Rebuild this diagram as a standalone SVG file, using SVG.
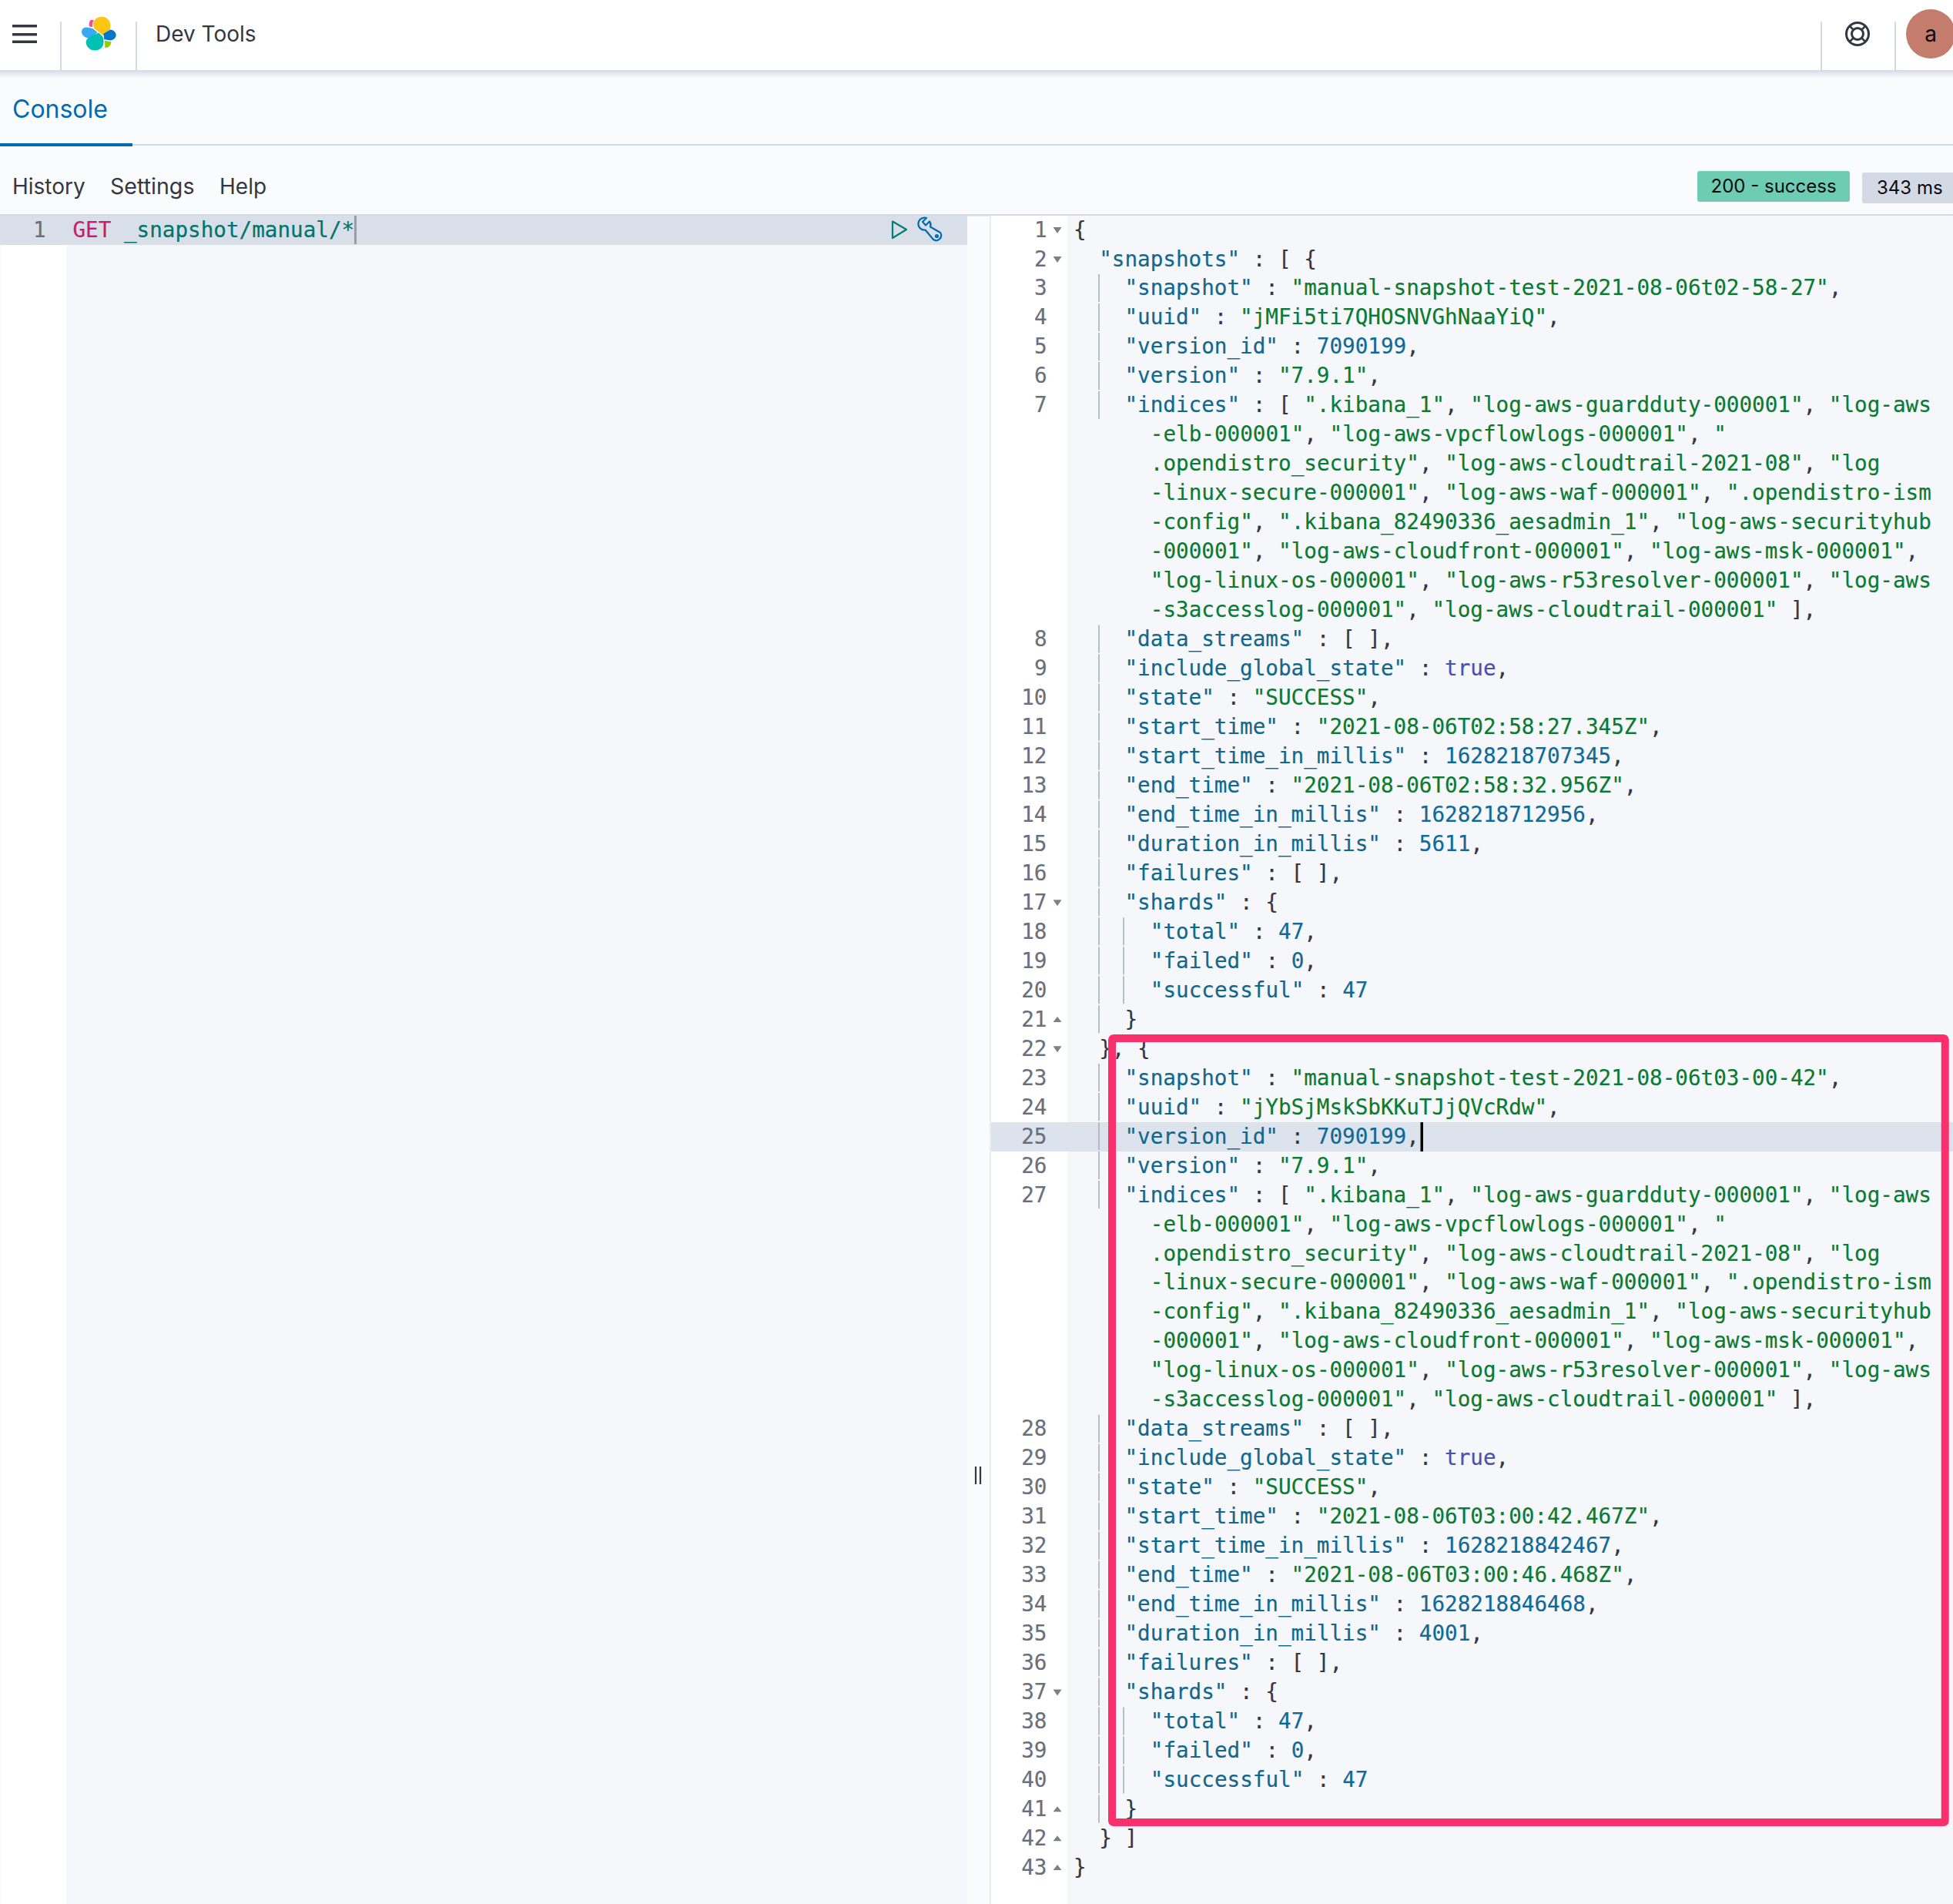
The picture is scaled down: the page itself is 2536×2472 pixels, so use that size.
<svg xmlns="http://www.w3.org/2000/svg" width="2536" height="2472" viewBox="0 0 2536 2472">
<style>
.ui{font-family:"Inter","Liberation Sans",sans-serif;fill:#343741}
.ub{font-family:"Inter","Liberation Sans",sans-serif;fill:#0b0b0f}
.m{font-family:"DejaVu Sans Mono","Liberation Mono",monospace;font-size:27.62px;fill:#343741;stroke:#343741;stroke-width:.2;white-space:pre}
.ln{fill:#69707d;stroke:#69707d;text-anchor:end}
.k{fill:#12688c;stroke:#12688c}.s{fill:#0b7a32;stroke:#0b7a32}.n{fill:#0f6a97;stroke:#0f6a97}.b{fill:#4f4fae;stroke:#4f4fae}
.get{fill:#c61e6f;stroke:#c61e6f}.path{fill:#00756a;stroke:#00756a}
.sep{stroke:#d3dae6;stroke-width:2;fill:none}
.guide{stroke:#a9afbb;stroke-width:1.6;stroke-dasharray:36 1.97;fill:none}
.fd{fill:#7c808a}
</style>
<defs>
<linearGradient id="shadow" x1="0" y1="0" x2="0" y2="1"><stop offset="0" stop-color="#d3dae6"/><stop offset="1" stop-color="#fafbfd"/></linearGradient>
<path id="dn" class="fd" d="M0 0h11l-5.500 8z"/>
<path id="up" class="fd" d="M0 7h11l-5.500-7z"/>
</defs>
<rect width="2536" height="2472" fill="#fafbfd"/>
<g id="header">
<rect width="2536" height="92" fill="#ffffff"/>
<rect y="91" width="2536" height="10" fill="url(#shadow)"/>
<path class="sep" d="M79 28V92M177 28V92M2365 28V92M2461 28V92"/>
<path d="M16 32h32v3.500h-32zM16 43h32v3.500h-32zM16 52.500h32v3.500h-32z" fill="#343741"/>
<g id="logo">
<path d="M132 21.700c7 0 11.500 5.500 11.500 12 0 4-2.500 7-5 9l-5 3.300-11-9c-1.500-1.500-1.500-4-1.500-5.500 0-5.500 5-9.800 11-9.800z" fill="#fec514"/>
<path d="M116 30c0-3 2-5 5-4l0.800 0.500c-1.500 2-2 5-1.800 8.500l-4-0.500c-0.500-1.300 0-3-0-4.500z" fill="#f04e98"/>
<path d="M113 35.500l7.500 1.500 6 5-9 8c-6 0-11.500-4-11.500-8.500s3-6 7-6z" fill="#36a9f0"/>
<path d="M120 46l8-3.500 5 4.500c2 3 1.500 7 1.500 8 0 6-5 10.500-11 10.500-6.500 0-11.800-5-11.800-10.500 0-4 3-6.500 8.300-9z" fill="#00bfb3"/>
<path d="M143 38.500c5 0 7.700 4 7.700 7 0 4-4 7-8 7l-7.700-1.500c0.500-3-0.500-6-1-7z" fill="#0077cc"/>
<path d="M136 52.700l8.300 1.500c0 4-2.500 8-8 8z" fill="#93c90e"/>
</g>
<text class="ui" x="202" y="54" font-size="28">Dev Tools</text>
<g id="help-icon" fill="none" stroke="#343741" stroke-width="3">
<circle cx="2412" cy="44" r="14.500"/><circle cx="2412" cy="44" r="7.500"/>
<path stroke-width="2.500" d="M2402 34l5 5M2422 34l-5 5M2402 54l5-5M2422 54l-5-5"/>
</g>
<g id="avatar"><circle cx="2507" cy="44" r="32" fill="#c47c6c"/><text class="ub" x="2507" y="54" font-size="28" text-anchor="middle">a</text></g>
</g>
<g id="tabs">
<text class="ui" x="16" y="152.500" font-size="32" style="fill:#006bb4">Console</text>
<rect y="187" width="2536" height="2" fill="#d3dae6"/>
<rect y="186" width="172" height="4" fill="#006bb4"/>
<text class="ui" x="16" y="252" font-size="28">History</text>
<text class="ui" x="143" y="252" font-size="28.600">Settings</text>
<text class="ui" x="285" y="252" font-size="28">Help</text>
<g id="badge-status"><rect x="2204" y="222" width="198" height="40" rx="3" fill="#6dccb1"/><text class="ub" x="2221.500" y="250" font-size="24">200 - success</text></g>
<g id="badge-time"><rect x="2418" y="224" width="130" height="40" rx="3" fill="#d3dae6"/><text class="ub" x="2437" y="252" font-size="24">343 ms</text></g>
<rect y="278" width="2536" height="2.500" fill="#d3dae6"/>
</g>
<g id="left-pane">
<rect x="2" y="280" width="84" height="2192" fill="#ffffff"/>
<rect x="86" y="280" width="1170" height="2192" fill="#f5f7fb"/>
<rect x="0" y="280" width="1256" height="38" fill="#d9dfe9"/>
<text class="m ln" x="59.500" y="307.500">1</text>
<text class="m" x="94.500" y="307.500"><tspan class="get">GET</tspan> <tspan class="path">_snapshot/manual/*</tspan></text>
<rect x="460" y="280" width="3" height="37" fill="#999da6"/>
<path d="M1159 287.500L1177 298L1159 309Z" fill="none" stroke="#017d73" stroke-width="2.200" stroke-linejoin="round"/>
<g id="wrench" fill="none" stroke="#006bb4" stroke-width="2.200" stroke-linejoin="round">
<path d="M1203 283L1198 288L1202 292.500L1207 287.500Q1209.500 291 1208 294.500L1221 302A6.500 6.500 0 0 1 1212 311L1201.500 298.500A8 8 0 1 1 1203 283Z"/>
<circle cx="1216.500" cy="306.500" r="1.500"/>
</g>
<path d="M1267 1904v23M1273 1904v23" stroke="#343741" stroke-width="2.200" fill="none"/>
</g>
<g id="right-pane">
<rect x="1285" y="280" width="2" height="2192" fill="#e9edf3"/>
<rect x="1287" y="280" width="99" height="2192" fill="#ffffff"/>
<rect x="1386" y="280" width="1150" height="2192" fill="#f5f7fb"/>
<rect x="1287" y="1457" width="1249" height="38" fill="#dde3ec"/>
<rect x="1844.500" y="1457" width="3.500" height="38" fill="#000000"/>
<path class="guide" d="M1427 356V545.800M1427 811.600V1343.200M1427 1381.100V1571M1427 1836.800V2368.400"/>
<path class="guide" d="M1459 1191.300V1305.200M1459 2216.500V2330.400"/>
<g id="line-numbers">
<text class="m ln" x="1359.500" y="307.500">1</text>
<text class="m ln" x="1359.500" y="345.500">2</text>
<text class="m ln" x="1359.500" y="383.400">3</text>
<text class="m ln" x="1359.500" y="421.400">4</text>
<text class="m ln" x="1359.500" y="459.400">5</text>
<text class="m ln" x="1359.500" y="497.400">6</text>
<text class="m ln" x="1359.500" y="535.300">7</text>
<text class="m ln" x="1359.500" y="839.100">8</text>
<text class="m ln" x="1359.500" y="877.100">9</text>
<text class="m ln" x="1359.500" y="915">10</text>
<text class="m ln" x="1359.500" y="953">11</text>
<text class="m ln" x="1359.500" y="991">12</text>
<text class="m ln" x="1359.500" y="1028.900">13</text>
<text class="m ln" x="1359.500" y="1066.900">14</text>
<text class="m ln" x="1359.500" y="1104.900">15</text>
<text class="m ln" x="1359.500" y="1142.800">16</text>
<text class="m ln" x="1359.500" y="1180.800">17</text>
<text class="m ln" x="1359.500" y="1218.800">18</text>
<text class="m ln" x="1359.500" y="1256.800">19</text>
<text class="m ln" x="1359.500" y="1294.700">20</text>
<text class="m ln" x="1359.500" y="1332.700">21</text>
<text class="m ln" x="1359.500" y="1370.700">22</text>
<text class="m ln" x="1359.500" y="1408.600">23</text>
<text class="m ln" x="1359.500" y="1446.600">24</text>
<text class="m ln" x="1359.500" y="1484.600">25</text>
<text class="m ln" x="1359.500" y="1522.500">26</text>
<text class="m ln" x="1359.500" y="1560.500">27</text>
<text class="m ln" x="1359.500" y="1864.300">28</text>
<text class="m ln" x="1359.500" y="1902.200">29</text>
<text class="m ln" x="1359.500" y="1940.200">30</text>
<text class="m ln" x="1359.500" y="1978.200">31</text>
<text class="m ln" x="1359.500" y="2016.200">32</text>
<text class="m ln" x="1359.500" y="2054.100">33</text>
<text class="m ln" x="1359.500" y="2092.100">34</text>
<text class="m ln" x="1359.500" y="2130.100">35</text>
<text class="m ln" x="1359.500" y="2168">36</text>
<text class="m ln" x="1359.500" y="2206">37</text>
<text class="m ln" x="1359.500" y="2244">38</text>
<text class="m ln" x="1359.500" y="2281.900">39</text>
<text class="m ln" x="1359.500" y="2319.900">40</text>
<text class="m ln" x="1359.500" y="2357.900">41</text>
<text class="m ln" x="1359.500" y="2395.900">42</text>
<text class="m ln" x="1359.500" y="2433.800">43</text>
</g>
<g id="fold-marks">
<use href="#dn" x="1367.500" y="295"/><use href="#dn" x="1367.500" y="333"/><use href="#dn" x="1367.500" y="1168.300"/><use href="#dn" x="1367.500" y="1358.200"/><use href="#dn" x="1367.500" y="2193.500"/>
<use href="#up" x="1367.500" y="1320"/><use href="#up" x="1367.500" y="2345.200"/><use href="#up" x="1367.500" y="2383.200"/><use href="#up" x="1367.500" y="2421.100"/>
</g>
<g id="code-head">
<text class="m" x="1394" y="307.500">{</text>
<text class="m" x="1427.200" y="345.500"><tspan class="k">"snapshots"</tspan> : [ {</text>
</g>
<g id="snapshot-1">
<text class="m" x="1460.500" y="383.400"><tspan class="k">"snapshot"</tspan> : <tspan class="s">"manual-snapshot-test-2021-08-06t02-58-27"</tspan>,</text>
<text class="m" x="1460.500" y="421.400"><tspan class="k">"uuid"</tspan> : <tspan class="s">"jMFi5ti7QHOSNVGhNaaYiQ"</tspan>,</text>
<text class="m" x="1460.500" y="459.400"><tspan class="k">"version_id"</tspan> : <tspan class="n">7090199</tspan>,</text>
<text class="m" x="1460.500" y="497.400"><tspan class="k">"version"</tspan> : <tspan class="s">"7.9.1"</tspan>,</text>
<text class="m" x="1460.500" y="535.300"><tspan class="k">"indices"</tspan> : [ <tspan class="s">".kibana_1"</tspan>, <tspan class="s">"log-aws-guardduty-000001"</tspan>, <tspan class="s">"log-aws</tspan></text>
<text class="m" x="1493.800" y="573.300"><tspan class="s">-elb-000001"</tspan>, <tspan class="s">"log-aws-vpcflowlogs-000001"</tspan>, <tspan class="s">"</tspan></text>
<text class="m" x="1493.800" y="611.300"><tspan class="s">.opendistro_security"</tspan>, <tspan class="s">"log-aws-cloudtrail-2021-08"</tspan>, <tspan class="s">"log</tspan></text>
<text class="m" x="1493.800" y="649.200"><tspan class="s">-linux-secure-000001"</tspan>, <tspan class="s">"log-aws-waf-000001"</tspan>, <tspan class="s">".opendistro-ism</tspan></text>
<text class="m" x="1493.800" y="687.200"><tspan class="s">-config"</tspan>, <tspan class="s">".kibana_82490336_aesadmin_1"</tspan>, <tspan class="s">"log-aws-securityhub</tspan></text>
<text class="m" x="1493.800" y="725.200"><tspan class="s">-000001"</tspan>, <tspan class="s">"log-aws-cloudfront-000001"</tspan>, <tspan class="s">"log-aws-msk-000001"</tspan>,</text>
<text class="m" x="1493.800" y="763.100"><tspan class="s">"log-linux-os-000001"</tspan>, <tspan class="s">"log-aws-r53resolver-000001"</tspan>, <tspan class="s">"log-aws</tspan></text>
<text class="m" x="1493.800" y="801.100"><tspan class="s">-s3accesslog-000001"</tspan>, <tspan class="s">"log-aws-cloudtrail-000001"</tspan> ],</text>
<text class="m" x="1460.500" y="839.100"><tspan class="k">"data_streams"</tspan> : [ ],</text>
<text class="m" x="1460.500" y="877.100"><tspan class="k">"include_global_state"</tspan> : <tspan class="b">true</tspan>,</text>
<text class="m" x="1460.500" y="915"><tspan class="k">"state"</tspan> : <tspan class="s">"SUCCESS"</tspan>,</text>
<text class="m" x="1460.500" y="953"><tspan class="k">"start_time"</tspan> : <tspan class="s">"2021-08-06T02:58:27.345Z"</tspan>,</text>
<text class="m" x="1460.500" y="991"><tspan class="k">"start_time_in_millis"</tspan> : <tspan class="n">1628218707345</tspan>,</text>
<text class="m" x="1460.500" y="1028.900"><tspan class="k">"end_time"</tspan> : <tspan class="s">"2021-08-06T02:58:32.956Z"</tspan>,</text>
<text class="m" x="1460.500" y="1066.900"><tspan class="k">"end_time_in_millis"</tspan> : <tspan class="n">1628218712956</tspan>,</text>
<text class="m" x="1460.500" y="1104.900"><tspan class="k">"duration_in_millis"</tspan> : <tspan class="n">5611</tspan>,</text>
<text class="m" x="1460.500" y="1142.800"><tspan class="k">"failures"</tspan> : [ ],</text>
<text class="m" x="1460.500" y="1180.800"><tspan class="k">"shards"</tspan> : {</text>
<text class="m" x="1493.800" y="1218.800"><tspan class="k">"total"</tspan> : <tspan class="n">47</tspan>,</text>
<text class="m" x="1493.800" y="1256.800"><tspan class="k">"failed"</tspan> : <tspan class="n">0</tspan>,</text>
<text class="m" x="1493.800" y="1294.700"><tspan class="k">"successful"</tspan> : <tspan class="n">47</tspan></text>
<text class="m" x="1460.500" y="1332.700">}</text>
<text class="m" x="1427.200" y="1370.700">}, {</text>
</g>
<g id="snapshot-2">
<text class="m" x="1460.500" y="1408.600"><tspan class="k">"snapshot"</tspan> : <tspan class="s">"manual-snapshot-test-2021-08-06t03-00-42"</tspan>,</text>
<text class="m" x="1460.500" y="1446.600"><tspan class="k">"uuid"</tspan> : <tspan class="s">"jYbSjMskSbKKuTJjQVcRdw"</tspan>,</text>
<text class="m" x="1460.500" y="1484.600"><tspan class="k">"version_id"</tspan> : <tspan class="n">7090199</tspan>,</text>
<text class="m" x="1460.500" y="1522.500"><tspan class="k">"version"</tspan> : <tspan class="s">"7.9.1"</tspan>,</text>
<text class="m" x="1460.500" y="1560.500"><tspan class="k">"indices"</tspan> : [ <tspan class="s">".kibana_1"</tspan>, <tspan class="s">"log-aws-guardduty-000001"</tspan>, <tspan class="s">"log-aws</tspan></text>
<text class="m" x="1493.800" y="1598.500"><tspan class="s">-elb-000001"</tspan>, <tspan class="s">"log-aws-vpcflowlogs-000001"</tspan>, <tspan class="s">"</tspan></text>
<text class="m" x="1493.800" y="1636.500"><tspan class="s">.opendistro_security"</tspan>, <tspan class="s">"log-aws-cloudtrail-2021-08"</tspan>, <tspan class="s">"log</tspan></text>
<text class="m" x="1493.800" y="1674.400"><tspan class="s">-linux-secure-000001"</tspan>, <tspan class="s">"log-aws-waf-000001"</tspan>, <tspan class="s">".opendistro-ism</tspan></text>
<text class="m" x="1493.800" y="1712.400"><tspan class="s">-config"</tspan>, <tspan class="s">".kibana_82490336_aesadmin_1"</tspan>, <tspan class="s">"log-aws-securityhub</tspan></text>
<text class="m" x="1493.800" y="1750.400"><tspan class="s">-000001"</tspan>, <tspan class="s">"log-aws-cloudfront-000001"</tspan>, <tspan class="s">"log-aws-msk-000001"</tspan>,</text>
<text class="m" x="1493.800" y="1788.300"><tspan class="s">"log-linux-os-000001"</tspan>, <tspan class="s">"log-aws-r53resolver-000001"</tspan>, <tspan class="s">"log-aws</tspan></text>
<text class="m" x="1493.800" y="1826.300"><tspan class="s">-s3accesslog-000001"</tspan>, <tspan class="s">"log-aws-cloudtrail-000001"</tspan> ],</text>
<text class="m" x="1460.500" y="1864.300"><tspan class="k">"data_streams"</tspan> : [ ],</text>
<text class="m" x="1460.500" y="1902.200"><tspan class="k">"include_global_state"</tspan> : <tspan class="b">true</tspan>,</text>
<text class="m" x="1460.500" y="1940.200"><tspan class="k">"state"</tspan> : <tspan class="s">"SUCCESS"</tspan>,</text>
<text class="m" x="1460.500" y="1978.200"><tspan class="k">"start_time"</tspan> : <tspan class="s">"2021-08-06T03:00:42.467Z"</tspan>,</text>
<text class="m" x="1460.500" y="2016.200"><tspan class="k">"start_time_in_millis"</tspan> : <tspan class="n">1628218842467</tspan>,</text>
<text class="m" x="1460.500" y="2054.100"><tspan class="k">"end_time"</tspan> : <tspan class="s">"2021-08-06T03:00:46.468Z"</tspan>,</text>
<text class="m" x="1460.500" y="2092.100"><tspan class="k">"end_time_in_millis"</tspan> : <tspan class="n">1628218846468</tspan>,</text>
<text class="m" x="1460.500" y="2130.100"><tspan class="k">"duration_in_millis"</tspan> : <tspan class="n">4001</tspan>,</text>
<text class="m" x="1460.500" y="2168"><tspan class="k">"failures"</tspan> : [ ],</text>
<text class="m" x="1460.500" y="2206"><tspan class="k">"shards"</tspan> : {</text>
<text class="m" x="1493.800" y="2244"><tspan class="k">"total"</tspan> : <tspan class="n">47</tspan>,</text>
<text class="m" x="1493.800" y="2281.900"><tspan class="k">"failed"</tspan> : <tspan class="n">0</tspan>,</text>
<text class="m" x="1493.800" y="2319.900"><tspan class="k">"successful"</tspan> : <tspan class="n">47</tspan></text>
<text class="m" x="1460.500" y="2357.900">}</text>
</g>
<g id="code-tail">
<text class="m" x="1427.200" y="2395.900">} ]</text>
<text class="m" x="1394" y="2433.800">}</text>
</g>
</g>
<rect id="red-box" x="1444" y="1348" width="1081.700" height="1018" rx="2" fill="none" stroke="#fb2f6c" stroke-width="10" stroke-linejoin="round"/>
</svg>
